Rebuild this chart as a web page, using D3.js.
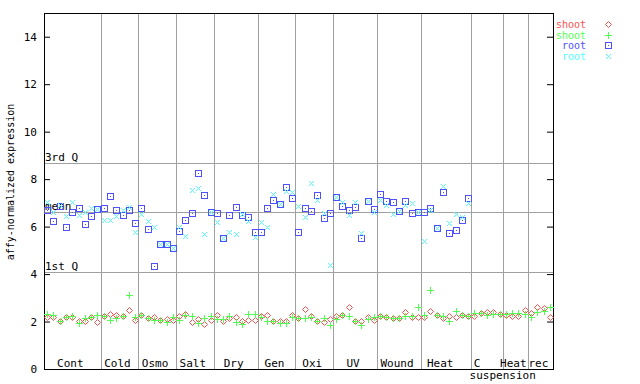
<!DOCTYPE html>
<html>
<head>
<meta charset="utf-8">
<script src="https://cdnjs.cloudflare.com/ajax/libs/d3/7.8.5/d3.min.js"></script>
<style>
  body { margin: 0; background: #fff; }
  svg { display: block; }
  text { font-family: "DejaVu Sans Mono", monospace; }
</style>
</head>
<body>
<svg width="640" height="384"></svg>
<script>
// groepen van de x-as en het aantal samples per groep
var groups = ["Cont", "Cold", "Osmo", "Salt", "Dry", "Gen", "Oxi", "UV", "Wound", "Heat", "C", "Heat", "rec"];
var groupSizes = [9, 6, 6, 6, 7, 6, 6, 7, 7, 8, 5, 4, 4];

// referentielijnen
var refNames = ["3rd Q", "mean", "1st Q"];
var refValues = [8.68, 6.61, 4.08];

var yTicks = [0, 2, 4, 6, 8, 10, 12, 14];

// shoot (twee reeksen)
var shootRed = [2.18, 2.18, 2.01, 2.18, 2.18, 2.01, 2.01, 2.18, 1.97,
  2.22, 2.31, 2.26, 2.22, 2.48, 2.05,
  2.26, 2.14, 2.18, 2.05, 2.10, 2.05,
  2.22, 2.31, 1.97, 2.10, 1.89, 2.05,
  2.26, 2.01, 2.14, 2.18, 2.01, 2.05, 2.05,
  2.22, 2.26, 2.01, 2.01, 2.01, 2.26,
  2.14, 2.52, 2.22, 2.01, 1.97, 2.10,
  2.22, 2.26, 2.60, 2.01, 2.01, 2.18, 2.05,
  2.22, 2.18, 2.14, 2.14, 2.39, 2.18, 2.18,
  2.18, 2.43, 2.26, 2.14, 2.22, 2.18, 2.26, 2.22,
  2.22, 2.38, 2.39, 2.39, 2.31,
  2.26, 2.22, 2.22, 2.48,
  2.38, 2.63, 2.56, 2.18];

var shootGreen = [2.31, 2.26, 2.01, 2.18, 2.22, 1.93, 2.14, 2.18, 2.26,
  2.22, 2.05, 2.14, 2.22, 3.11, 2.18,
  2.26, 2.14, 2.05, 2.05, 1.97, 2.18,
  2.05, 2.26, 2.22, 1.93, 2.14, 2.22,
  2.10, 2.10, 2.22, 1.97, 1.89, 2.31, 2.31,
  2.18, 2.01, 2.01, 1.93, 1.93, 2.18,
  2.14, 2.14, 2.18, 2.01, 2.14, 1.84,
  2.10, 2.26, 2.22, 2.01, 1.84, 2.10, 2.18,
  2.22, 2.18, 2.14, 2.14, 2.22, 2.22, 2.60,
  2.26, 3.32, 2.26, 2.22, 2.01, 2.43, 2.26, 2.22,
  2.38, 2.38, 2.26, 2.31, 2.31,
  2.31, 2.38, 2.38, 2.31,
  2.18, 2.39, 2.43, 2.63];

// root (twee reeksen, geen suspension samples)
var rootBlue = [6.71, 6.24, 6.85, 5.98, 6.61, 6.78, 6.12, 6.44, 6.74,
  6.78, 7.30, 6.69, 6.48, 6.72, 6.15,
  6.78, 5.89, 4.33, 5.26, 5.26, 5.09,
  5.81, 6.27, 6.57, 8.26, 7.33, 6.61,
  6.57, 5.53, 6.48, 6.82, 6.48, 6.40, 5.77,
  5.77, 6.78, 7.12, 6.95, 7.66, 7.20,
  5.77, 6.78, 6.65, 7.33, 6.36, 6.57,
  7.24, 6.86, 6.69, 6.82, 5.51, 7.07, 6.74,
  7.37, 7.07, 7.03, 6.65, 7.07, 6.57, 6.61,
  6.61, 6.78, 5.93, 7.46, 5.72, 5.85, 6.27, 7.20];

var rootCyan = [7.02, 6.60, 6.92, 6.44, 7.03, 6.48, 6.62, 6.78, 6.74,
  6.27, 6.27, 6.44, 6.69, 6.84, 5.77,
  6.53, 6.24, 5.98, 5.26, 5.26, 5.09,
  5.98, 5.60, 7.54, 7.62, 5.68, 6.61,
  6.19, 5.53, 5.77, 5.68, 6.53, 6.23, 5.56,
  6.19, 5.98, 7.37, 6.95, 7.50, 7.46,
  6.86, 6.40, 7.84, 7.12, 6.57, 4.38,
  7.24, 7.03, 6.48, 7.03, 5.72, 7.07, 6.61,
  7.12, 6.91, 6.53, 6.65, 6.91, 6.99, 6.61,
  5.39, 6.69, 5.93, 7.71, 6.15, 6.53, 6.40, 6.99];

var series = [
  {name: "shoot", color: "#ff5050", shape: "diamond", values: shootRed},
  {name: "shoot", color: "#50ff50", shape: "plus", values: shootGreen},
  {name: "root", color: "#5050ff", shape: "square", values: rootBlue},
  {name: "root", color: "#50ffff", shape: "cross", values: rootCyan}
];

var svg = d3.select("svg"),
    margin = {top: 13, right: 87, bottom: 15, left: 44},
    width = 640 - margin.left - margin.right,
    height = 384 - margin.top - margin.bottom,
    g = svg.append("g").attr("transform", "translate(" + margin.left + "," + margin.top + ")");

var nSamples = d3.sum(groupSizes);

var x = d3.scaleBand().domain(d3.range(nSamples)).range([0, width]),
    y = d3.scaleLinear().domain([0, 15]).range([height, 0]);

// groepsgrenzen
var bounds = [0];
groupSizes.forEach(function(n, i) { bounds.push(bounds[i] + n); });
function bx(k) { return k >= nSamples ? width : x(k); }

// verticale scheidingslijnen
g.selectAll(".sep")
    .data(bounds.slice(1, -1))
    .enter().append("line")
    .attr("x1", function(d) { return Math.round(bx(d)) + 0.5; })
    .attr("x2", function(d) { return Math.round(bx(d)) + 0.5; })
    .attr("y1", 0)
    .attr("y2", height)
    .style("stroke", "#a0a0a0");

// horizontale referentielijnen met label
g.selectAll(".ref")
    .data(refValues)
    .enter().append("line")
    .attr("x1", 0)
    .attr("x2", width)
    .attr("y1", function(d) { return Math.round(y(d)) + 0.5; })
    .attr("y2", function(d) { return Math.round(y(d)) + 0.5; })
    .style("stroke", "#a0a0a0");

g.selectAll(".reflabel")
    .data(refValues)
    .enter().append("text")
    .attr("x", 1)
    .attr("y", function(d) { return y(d) - 2; })
    .style("font-size", "11px")
    .text(function(d, i) { return refNames[i]; });

// assen, ticks naar binnen
g.append("g")
    .call(d3.axisLeft(y).tickValues(yTicks).tickSize(-6).tickPadding(7))
    .call(function(a) { a.select(".domain").remove(); })
    .selectAll("text")
    .style("font-family", "DejaVu Sans Mono, monospace")
    .style("font-size", "11px");

g.append("g")
    .attr("transform", "translate(" + width + ",0)")
    .call(d3.axisRight(y).tickValues(yTicks).tickSize(-6).tickFormat(""))
    .call(function(a) { a.select(".domain").remove(); });

g.append("rect")
    .attr("x", 0.5)
    .attr("y", 0.5)
    .attr("width", width)
    .attr("height", height)
    .style("fill", "none")
    .style("stroke", "#000");

// groepslabels
var nudge = {9: -4, 10: -8};
g.selectAll(".glabel")
    .data(groups)
    .enter().append("text")
    .attr("x", function(d, i) { return (bx(bounds[i]) + bx(bounds[i + 1])) / 2 - 2 + (nudge[i] || 0); })
    .attr("y", height - 2)
    .attr("text-anchor", "middle")
    .style("font-size", "11px")
    .text(function(d) { return d; });

g.append("text")
    .attr("x", bx(bounds[11]))
    .attr("y", height + 10)
    .attr("text-anchor", "middle")
    .style("font-size", "11px")
    .text("suspension");

// y-as label
svg.append("text")
    .attr("transform", "translate(14,182) rotate(-90)")
    .attr("text-anchor", "middle")
    .style("font-size", "10px")
    .text("affy-normalized expression");

// markers
function marker(sel, shape, color) {
  sel.style("shape-rendering", "crispEdges");
  if (shape === "diamond") {
    sel.append("path").attr("d", "M0.5,-2.5L3.5,0.5L0.5,3.5L-2.5,0.5Z")
      .style("fill", "none").style("stroke", color).style("shape-rendering", "auto");
  } else if (shape === "plus") {
    sel.append("path").attr("d", "M-3,0.5H4M0.5,-3V4")
      .style("fill", "none").style("stroke", color);
  } else if (shape === "square") {
    sel.append("rect").attr("x", -2.5).attr("y", -2.5).attr("width", 6).attr("height", 6)
      .style("fill", "none").style("stroke", color);
    sel.append("rect").attr("x", 0).attr("y", 0).attr("width", 1).attr("height", 1)
      .style("fill", color);
  } else {
    sel.append("path").attr("d", "M-2,-2L3,3M3,-2L-2,3")
      .style("fill", "none").style("stroke", color).style("shape-rendering", "auto");
  }
}

series.forEach(function(s) {
  g.selectAll(null)
    .data(s.values)
    .enter().append("g")
    .attr("transform", function(d, i) {
      return "translate(" + Math.round(x(i) + x.bandwidth() / 2) + "," + Math.round(y(d)) + ")";
    })
    .each(function() { marker(d3.select(this), s.shape, s.color); });
});

// legenda
var legend = svg.selectAll(".legend")
    .data(series)
    .enter().append("g")
    .attr("transform", function(d, i) { return "translate(0," + Math.round(24 + i * 10.7) + ")"; });

legend.append("text")
    .attr("x", 586)
    .attr("y", 3.5)
    .attr("text-anchor", "end")
    .style("font-size", "10px")
    .style("fill", function(d) { return d.color; })
    .text(function(d) { return d.name; });

legend.append("g")
    .attr("transform", "translate(608,0)")
    .each(function(d) { marker(d3.select(this), d.shape, d.color); });
</script>
</body>
</html>
